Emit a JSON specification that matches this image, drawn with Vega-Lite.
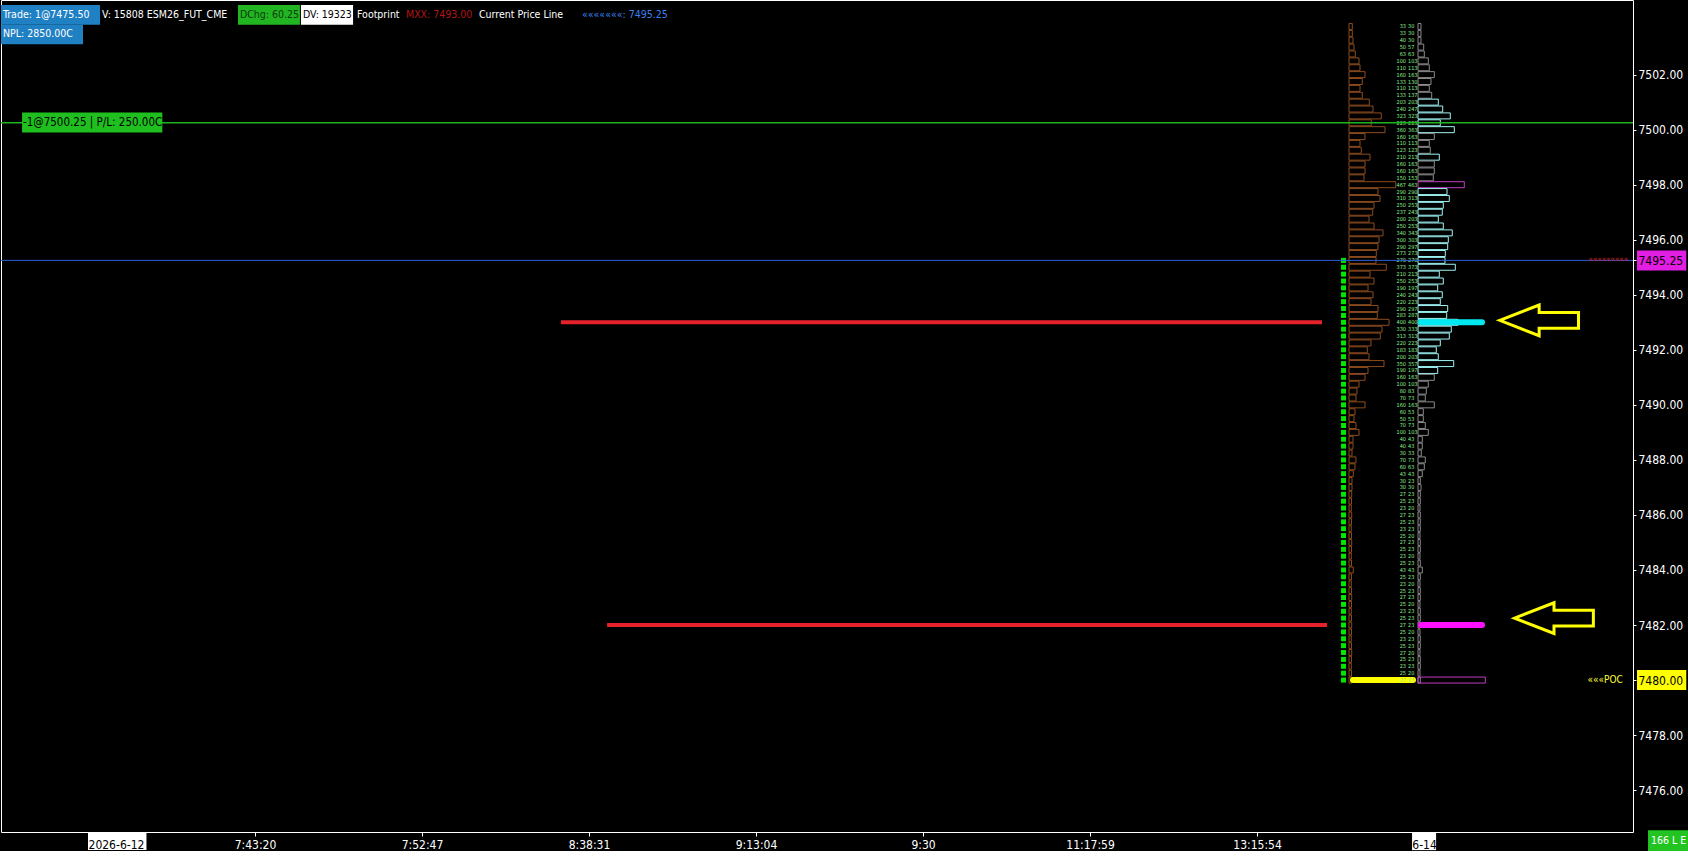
{
  "$schema": "https://vega.github.io/schema/vega-lite/v6.json",
  "width": 1632,
  "height": 832,
  "padding": 0,
  "background": "#000000",
  "config": {"view": {"stroke": "#ffffff", "strokeWidth": 1}},
  "datasets": {
    "prof": [
      {"p":7503.75,"bv":33,"av":30},{"p":7503.5,"bv":33,"av":30},{"p":7503.25,"bv":40,"av":30},{"p":7503,"bv":50,"av":57},
      {"p":7502.75,"bv":63,"av":63},{"p":7502.5,"bv":100,"av":103},{"p":7502.25,"bv":110,"av":113},{"p":7502,"bv":160,"av":163},
      {"p":7501.75,"bv":133,"av":130},{"p":7501.5,"bv":110,"av":113},{"p":7501.25,"bv":133,"av":137},{"p":7501,"bv":203,"av":203},
      {"p":7500.75,"bv":240,"av":247},{"p":7500.5,"bv":323,"av":323},{"p":7500.25,"bv":223,"av":223},{"p":7500,"bv":360,"av":363},
      {"p":7499.75,"bv":160,"av":163},{"p":7499.5,"bv":110,"av":113},{"p":7499.25,"bv":123,"av":123},{"p":7499,"bv":210,"av":213},
      {"p":7498.75,"bv":160,"av":163},{"p":7498.5,"bv":160,"av":163},{"p":7498.25,"bv":150,"av":153},{"p":7498,"bv":467,"av":463},
      {"p":7497.75,"bv":290,"av":290},{"p":7497.5,"bv":310,"av":313},{"p":7497.25,"bv":250,"av":253},{"p":7497,"bv":237,"av":243},
      {"p":7496.75,"bv":200,"av":203},{"p":7496.5,"bv":250,"av":253},{"p":7496.25,"bv":340,"av":343},{"p":7496,"bv":300,"av":303},
      {"p":7495.75,"bv":290,"av":297},{"p":7495.5,"bv":273,"av":273},{"p":7495.25,"bv":270,"av":270},{"p":7495,"bv":373,"av":373},
      {"p":7494.75,"bv":210,"av":213},{"p":7494.5,"bv":250,"av":253},{"p":7494.25,"bv":190,"av":197},{"p":7494,"bv":240,"av":243},
      {"p":7493.75,"bv":220,"av":223},{"p":7493.5,"bv":290,"av":297},{"p":7493.25,"bv":283,"av":287},{"p":7493,"bv":400,"av":400},
      {"p":7492.75,"bv":330,"av":333},{"p":7492.5,"bv":313,"av":313},{"p":7492.25,"bv":220,"av":223},{"p":7492,"bv":183,"av":183},
      {"p":7491.75,"bv":200,"av":203},{"p":7491.5,"bv":350,"av":357},{"p":7491.25,"bv":190,"av":197},{"p":7491,"bv":160,"av":163},
      {"p":7490.75,"bv":100,"av":103},{"p":7490.5,"bv":80,"av":83},{"p":7490.25,"bv":70,"av":73},{"p":7490,"bv":160,"av":163},
      {"p":7489.75,"bv":60,"av":53},{"p":7489.5,"bv":50,"av":53},{"p":7489.25,"bv":70,"av":73},{"p":7489,"bv":100,"av":103},
      {"p":7488.75,"bv":40,"av":43},{"p":7488.5,"bv":40,"av":43},{"p":7488.25,"bv":30,"av":33},{"p":7488,"bv":70,"av":73},
      {"p":7487.75,"bv":60,"av":63},{"p":7487.5,"bv":43,"av":43},{"p":7487.25,"bv":30,"av":23},{"p":7487,"bv":30,"av":30},
      {"p":7486.75,"bv":27,"av":23},{"p":7486.5,"bv":25,"av":23},{"p":7486.25,"bv":23,"av":20},{"p":7486,"bv":27,"av":23},
      {"p":7485.75,"bv":25,"av":23},{"p":7485.5,"bv":23,"av":23},{"p":7485.25,"bv":25,"av":20},{"p":7485,"bv":27,"av":23},
      {"p":7484.75,"bv":25,"av":23},{"p":7484.5,"bv":23,"av":20},{"p":7484.25,"bv":25,"av":23},{"p":7484,"bv":43,"av":43},
      {"p":7483.75,"bv":25,"av":23},{"p":7483.5,"bv":23,"av":20},{"p":7483.25,"bv":25,"av":23},{"p":7483,"bv":27,"av":23},
      {"p":7482.75,"bv":25,"av":20},{"p":7482.5,"bv":23,"av":23},{"p":7482.25,"bv":25,"av":23},{"p":7482,"bv":27,"av":23},
      {"p":7481.75,"bv":25,"av":20},{"p":7481.5,"bv":23,"av":23},{"p":7481.25,"bv":25,"av":23},{"p":7481,"bv":27,"av":20},
      {"p":7480.75,"bv":25,"av":23},{"p":7480.5,"bv":23,"av":23},{"p":7480.25,"bv":25,"av":20},{"p":7480,"bv":27,"av":23}
    ],
    "lv": [{"p":7493,"k":"MXX"},{"p":7482,"k":"L"},{"p":7480,"k":"POC"}],
    "orders": [{"p":7493,"t0":2.832,"t1":7.389},{"p":7482,"t0":3.108,"t1":7.419}],
    "arrows": [{"p":7493.07,"t":8.689},{"p":7482.25,"t":8.778}],
    "tags": [{"p":7495.25},{"p":7480}],
    "hdr": [
      {"t":"Trade: 1@7475.50","v0":-0.521,"v1":0.072,"k":"blue","row":1},
      {"t":"V: 15808 ESM26_FUT_CME","v0":0.072,"k":"plain","row":1},
      {"t":"DChg: 60.25","v0":0.898,"v1":1.269,"k":"green","row":1},
      {"t":"DV: 19323","v0":1.275,"v1":1.587,"k":"white","row":1},
      {"t":"Footprint","v0":1.599,"k":"plain","row":1},
      {"t":"MXX: 7493.00","v0":1.892,"k":"red","row":1},
      {"t":"Current Price Line","v0":2.329,"k":"plain","row":1},
      {"t":"«««««««: 7495.25","v0":2.946,"k":"cpl","row":1},
      {"t":"NPL: 2850.00C","v0":-0.521,"v1":-0.03,"k":"blue","row":2}
    ]
  },
  "layer": [
    {
      "layer": [
        {
          "data": {"name": "prof"},
          "mark": {"type": "bar", "orient": "horizontal", "size": 6, "filled": false, "color": "#8c4c1e", "strokeWidth": 1},
          "encoding": {
            "x": {"field": "bv", "type": "quantitative", "stack": null, "scale": {"domain": [-13480, 2840], "nice": false, "zero": false}, "axis": null},
            "y": {"field": "p", "type": "quantitative", "scale": {"domain": [7474.66, 7504.53], "nice": false, "zero": false}}
          }
        },
        {
          "data": {"name": "prof"},
          "transform": [{"filter": "datum.p <= 7495.25"}],
          "mark": {"type": "point", "shape": "square", "size": 25, "filled": true, "color": "#00e600", "opacity": 1},
          "encoding": {"x": {"datum": -55}, "y": {"field": "p", "type": "quantitative"}}
        },
        {
          "data": {"name": "lv"},
          "transform": [{"filter": "datum.k == 'POC'"}],
          "mark": {"type": "rule", "color": "#ffff00", "strokeWidth": 6, "strokeCap": "round"},
          "encoding": {"x": {"datum": 40}, "x2": {"datum": 640}, "y": {"field": "p", "type": "quantitative"}}
        },
        {
          "data": {"name": "prof"},
          "mark": {"type": "text", "align": "right", "baseline": "middle", "fontSize": 5.5, "color": "#8ef08e", "font": "DejaVu Sans Condensed"},
          "encoding": {"x": {"datum": 570}, "y": {"field": "p", "type": "quantitative"}, "text": {"field": "bv"}}
        }
      ]
    },
    {
      "layer": [
        {
          "data": {"name": "prof"},
          "transform": [{"joinaggregate": [{"op": "max", "field": "av", "as": "mx"}]}],
          "mark": {"type": "bar", "orient": "horizontal", "size": 6, "filled": false, "strokeWidth": 1},
          "encoding": {
            "x": {"field": "av", "type": "quantitative", "stack": null, "scale": {"domain": [-14170, 2150], "nice": false, "zero": false}, "axis": null},
            "y": {"field": "p", "type": "quantitative"},
            "color": {"condition": [{"test": "datum.av == datum.mx", "value": "#c23cc2"}, {"test": "datum.av >= 170", "value": "#9ef4f4"}], "value": "#8a8a8a"}
          }
        },
        {
          "data": {"name": "lv"},
          "transform": [{"filter": "datum.k != 'POC'"}],
          "mark": {"type": "rule", "strokeWidth": 6, "strokeCap": "round"},
          "encoding": {
            "x": {"datum": 30}, "x2": {"datum": 640},
            "y": {"field": "p", "type": "quantitative"},
            "color": {"condition": {"test": "datum.k == 'MXX'", "value": "#00e8f0"}, "value": "#ff10ff"}
          }
        },
        {
          "data": {"name": "lv"},
          "transform": [{"filter": "datum.k == 'POC'"}],
          "mark": {"type": "bar", "orient": "horizontal", "size": 6, "filled": false, "color": "#c23cc2", "strokeWidth": 1},
          "encoding": {"x": {"datum": 673}, "x2": {"datum": 0}, "y": {"field": "p", "type": "quantitative"}}
        },
        {
          "data": {"name": "prof"},
          "mark": {"type": "text", "align": "left", "baseline": "middle", "fontSize": 5.5, "color": "#8ef08e", "font": "DejaVu Sans Condensed"},
          "encoding": {"x": {"datum": -100}, "y": {"field": "p", "type": "quantitative"}, "text": {"field": "av"}}
        }
      ]
    },
    {
      "layer": [
        {
          "data": {"name": "orders"},
          "mark": {"type": "rule", "color": "#e5222b", "strokeWidth": 4},
          "encoding": {
            "x": {
              "field": "t0", "type": "quantitative",
              "scale": {"domain": [-0.521, 9.251], "nice": false, "zero": false},
              "axis": {
                "orient": "bottom", "values": [0, 1, 2, 3, 4, 5, 6, 7, 8],
                "labelExpr": "['2026-6-12','7:43:20','7:52:47','8:38:31','9:13:04','9:30','11:17:59','13:15:54','6-14'][datum.value]",
                "title": null, "grid": false, "domain": false, "tickColor": "#ffffff", "tickSize": 4,
                "labelColor": {"condition": {"test": "datum.value == 0 || datum.value == 8", "value": "#000000"}, "value": "#ffffff"},
                "labelAlign": {"condition": {"test": "datum.value == 0", "value": "left"}, "value": "center"},
                "labelFont": "DejaVu Sans Condensed",
                "labelFontSize": 12, "labelPadding": 3, "labelOverlap": false, "labelFlush": false, "zindex": 1
              }
            },
            "x2": {"field": "t1"},
            "y": {
              "field": "p", "type": "quantitative",
              "scale": {"domain": [7474.66, 7504.53], "nice": false, "zero": false},
              "axis": {
                "orient": "right",
                "values": [7476, 7478, 7480, 7482, 7484, 7486, 7488, 7490, 7492, 7494, 7495.25, 7496, 7498, 7500, 7502],
                "format": ".2f", "title": null, "grid": false, "domain": false, "tickColor": "#ffffff", "tickSize": 3,
                "labelColor": {"condition": {"test": "datum.value == 7495.25 || datum.value == 7480", "value": "#000000"}, "value": "#ffffff"},
                "labelFont": "DejaVu Sans Condensed",
                "labelFontSize": 12, "labelPadding": 2, "labelOverlap": false, "labelFlush": false, "zindex": 1
              }
            }
          }
        },
        {
          "data": {"name": "arrows"},
          "mark": {"type": "point", "shape": "M-1,0L0,-0.39L0,-0.2L1,-0.2L1,0.2L0,0.2L0,0.39Z", "size": 6200, "filled": false, "color": "#ffff00", "strokeWidth": 3, "opacity": 1},
          "encoding": {"x": {"field": "t", "type": "quantitative"}, "y": {"field": "p", "type": "quantitative"}}
        },
        {
          "data": {"values": [{}]},
          "mark": {"type": "rule", "color": "#1fb51f", "strokeWidth": 1.5},
          "encoding": {"y": {"datum": 7500.25}}
        },
        {
          "data": {"values": [{}]},
          "mark": {"type": "rule", "color": "#2f5fd6", "strokeWidth": 1},
          "encoding": {"y": {"datum": 7495.25}}
        },
        {
          "data": {"values": [{}]},
          "mark": {"type": "rect", "color": "#1fbf1f"},
          "encoding": {"x": {"datum": -0.395}, "x2": {"datum": 0.445}, "y": {"datum": 7499.9}, "y2": {"datum": 7500.62}}
        },
        {
          "data": {"values": [{}]},
          "mark": {"type": "text", "text": "-1@7500.25 | P/L: 250.00C", "align": "left", "baseline": "middle", "color": "#000000", "fontSize": 11.5, "font": "DejaVu Sans Condensed"},
          "encoding": {"x": {"datum": -0.389}, "y": {"datum": 7500.26}}
        },
        {
          "data": {"values": [{}]},
          "mark": {"type": "text", "text": "«««««««««", "align": "right", "baseline": "middle", "color": "#d42020", "fontSize": 8, "font": "DejaVu Sans Condensed"},
          "encoding": {"x": {"datum": 9.222}, "y": {"datum": 7495.25}}
        },
        {
          "data": {"values": [{}]},
          "mark": {"type": "text", "text": "«««POC", "align": "right", "baseline": "middle", "color": "#ffff33", "fontSize": 10, "font": "DejaVu Sans Condensed"},
          "encoding": {"x": {"datum": 9.19}, "y": {"datum": 7480}}
        },
        {
          "data": {"name": "tags"},
          "mark": {"type": "bar", "orient": "horizontal", "size": 20},
          "encoding": {
            "x": {"datum": 9.275}, "x2": {"datum": 9.57},
            "y": {"field": "p", "type": "quantitative"},
            "color": {"condition": {"test": "datum.p == 7480", "value": "#ffff00"}, "value": "#e31ee3"}
          }
        },
        {
          "data": {"values": [{}]},
          "mark": {"type": "rect", "color": "#ffffff"},
          "encoding": {"x": {"datum": 0}, "x2": {"datum": 0.35}, "y": {"datum": 7474.47}, "y2": {"datum": 7473.82}}
        },
        {
          "data": {"values": [{}]},
          "mark": {"type": "rect", "color": "#ffffff"},
          "encoding": {"x": {"datum": 7.928}, "x2": {"datum": 8.072}, "y": {"datum": 7474.47}, "y2": {"datum": 7473.82}}
        },
        {
          "data": {"values": [{}]},
          "mark": {"type": "rect", "color": "#22c422"},
          "encoding": {"x": {"datum": 9.341}, "x2": {"datum": 9.587}, "y": {"datum": 7474.54}, "y2": {"datum": 7473.79}}
        },
        {
          "data": {"values": [{}]},
          "mark": {"type": "text", "text": "166 L E", "align": "center", "baseline": "middle", "color": "#ffffff", "fontSize": 10.5, "font": "DejaVu Sans Condensed"},
          "encoding": {"x": {"datum": 9.464}, "y": {"datum": 7474.16}}
        },
        {
          "data": {"name": "hdr"},
          "transform": [{"filter": "datum.row == 1 && isValid(datum.v1)"}],
          "mark": {"type": "rect"},
          "encoding": {
            "x": {"field": "v0", "type": "quantitative"}, "x2": {"field": "v1"},
            "y": {"datum": 7504.53}, "y2": {"datum": 7503.81},
            "fill": {"field": "k", "type": "nominal", "scale": {"domain": ["blue", "green", "white"], "range": ["#1f80c4", "#22b522", "#ffffff"]}, "legend": null}
          }
        },
        {
          "data": {"name": "hdr"},
          "transform": [{"filter": "datum.row == 2"}],
          "mark": {"type": "rect"},
          "encoding": {
            "x": {"field": "v0", "type": "quantitative"}, "x2": {"field": "v1"},
            "y": {"datum": 7503.81}, "y2": {"datum": 7503.1},
            "fill": {"field": "k", "type": "nominal", "legend": null}
          }
        },
        {
          "data": {"name": "hdr"},
          "transform": [{"filter": "datum.row == 1"}],
          "mark": {"type": "text", "align": "left", "baseline": "middle", "dx": 2, "fontSize": 10.5, "font": "DejaVu Sans Condensed"},
          "encoding": {
            "x": {"field": "v0", "type": "quantitative"},
            "y": {"datum": 7504.17},
            "text": {"field": "t"},
            "color": {"field": "k", "type": "nominal", "scale": {"domain": ["blue", "plain", "green", "white", "red", "cpl"], "range": ["#ffffff", "#ffffff", "#0c3a0c", "#000000", "#b51414", "#3b82f0"]}, "legend": null}
          }
        },
        {
          "data": {"name": "hdr"},
          "transform": [{"filter": "datum.row == 2"}],
          "mark": {"type": "text", "align": "left", "baseline": "middle", "dx": 2, "fontSize": 10.5, "font": "DejaVu Sans Condensed"},
          "encoding": {
            "x": {"field": "v0", "type": "quantitative"},
            "y": {"datum": 7503.46},
            "text": {"field": "t"},
            "color": {"field": "k", "type": "nominal", "legend": null}
          }
        }
      ]
    }
  ],
  "resolve": {"scale": {"x": "independent"}}
}
